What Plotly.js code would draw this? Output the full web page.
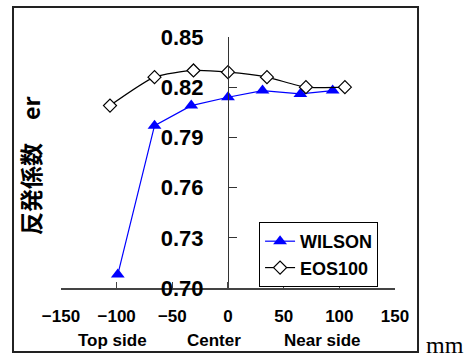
<!DOCTYPE html>
<html>
<head>
<meta charset="utf-8">
<script src="https://cdn.plot.ly/plotly-3.0.1.min.js"></script>
<style>html,body{margin:0;padding:0;background:#fff;}#chart{width:469px;height:360px;}</style>
</head>
<body>
<div id="chart"></div>
<script>
// Data
var wilsonX = [-99, -66, -33, 0, 31, 65, 94];
var wilsonY = [0.708, 0.797, 0.809, 0.814, 0.818, 0.816, 0.818];
var eosX = [-106, -66, -31, 0, 35, 70, 105];
var eosY = [0.809, 0.826, 0.830, 0.829, 0.826, 0.820, 0.820];
var yTicks = [0.70, 0.73, 0.76, 0.79, 0.82, 0.85];
var xTicks = [-150, -100, -50, 0, 50, 100, 150];
var sideLabels = ["Top side", "Center", "Near side"];
var sideLabelX = [-104, -13, 85];
var seriesNames = ["WILSON", "EOS100"];

var boldFont = "Liberation Sans, Arial, sans-serif";

var traces = [
  {
    x: wilsonX, y: wilsonY, name: "<b>" + seriesNames[0] + "</b>", type: "scatter", mode: "lines+markers",
    line: {color: "#0000ff", width: 1.2},
    marker: {symbol: "triangle-up", size: 12, color: "#0000ff"}
  },
  {
    x: eosX, y: eosY, name: "<b>" + seriesNames[1] + "</b>", type: "scatter", mode: "lines+markers",
    line: {color: "#000000", width: 1.2, shape: "spline", smoothing: 0.6},
    marker: {symbol: "diamond", size: 10, color: "#ffffff", line: {color: "#000000", width: 1.2}}
  }
];

var annotations = sideLabels.map(function (t, i) {
  return {
    text: "<b>" + t + "</b>", x: sideLabelX[i], xref: "x", y: -0.21, yref: "paper",
    showarrow: false, xanchor: "center", yanchor: "middle",
    font: {family: boldFont, size: 17, color: "#000"}
  };
});
annotations.push({
  text: "<b>反発係数　er</b>", x: -0.093, xref: "paper", y: 0.49, yref: "paper",
  textangle: -90, showarrow: false, xanchor: "center", yanchor: "middle",
  font: {family: "Noto Sans CJK JP, sans-serif", size: 23, color: "#000"}
});
annotations.push({
  text: "mm", x: 1.15, xref: "paper", y: -0.2869, yref: "paper",
  showarrow: false, xanchor: "center", yanchor: "bottom",
  font: {family: "Liberation Serif, Times New Roman, serif", size: 24, color: "#000"}
});

var layout = {
  width: 469, height: 360,
  margin: {l: 61, r: 74, t: 37, b: 72, pad: 0},
  paper_bgcolor: "#ffffff", plot_bgcolor: "#ffffff",
  showlegend: true,
  legend: {
    x: 0.593, y: 0.263, xanchor: "left", yanchor: "top",
    bgcolor: "#ffffff", bordercolor: "#000000", borderwidth: 1,
    font: {family: boldFont, size: 18, color: "#000"},
    tracegroupgap: 0, itemwidth: 30
  },
  xaxis: {
    range: [-150, 150], tickvals: xTicks, ticktext: xTicks.map(function (v) { return "<b>" + (v < 0 ? "\u2212" + (-v) : v) + "</b>"; }),
    showgrid: false, zeroline: false, showline: true, linecolor: "#444", linewidth: 1.5,
    ticks: "inside", ticklen: 6, tickcolor: "#444", tickwidth: 1.5,
    tickfont: {family: boldFont, size: 17, color: "#000"}, ticklabelstandoff: 12,
    fixedrange: true
  },
  yaxis: {
    range: [0.70, 0.85], tickvals: yTicks, ticktext: yTicks.map(function (v) { return "<b>" + v.toFixed(2) + "</b>"; }),
    anchor: "free", position: 0.5, side: "left",
    showgrid: false, zeroline: false, showline: true, linecolor: "#333", linewidth: 1,
    ticks: "inside", ticklen: 8, tickcolor: "#333", tickwidth: 1,
    tickfont: {family: boldFont, size: 22, color: "#000"}, ticklabelstandoff: 20,
    fixedrange: true
  },
  shapes: [{
    type: "rect", xref: "paper", yref: "paper",
    x0: -0.1437, x1: 1.0689, y0: -0.255, y1: 1.1195,
    line: {color: "#222", width: 2}, fillcolor: "rgba(0,0,0,0)"
  }],
  annotations: annotations
};

Plotly.newPlot("chart", traces, layout, {displayModeBar: false, staticPlot: true});
</script>
</body>
</html>
